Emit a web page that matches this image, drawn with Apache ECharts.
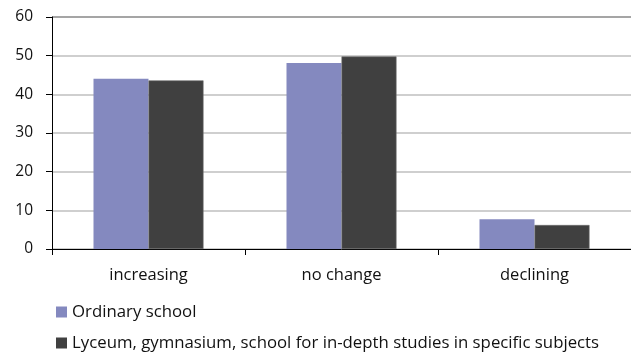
<!DOCTYPE html>
<html>
<head>
<meta charset="utf-8">
<script src="https://cdn.jsdelivr.net/npm/echarts@6/dist/echarts.min.js"></script>
<style>
  html, body { margin: 0; padding: 0; background: #fff; }
  #chart { width: 631px; height: 354px; }
</style>
</head>
<body>
<div id="chart"></div>
<script>
// Categories and per-group values (percent of respondents)
const categories = ['increasing', 'no change', 'declining'];
const ordinarySchool = [44.0, 48.1, 7.7];
const lyceumGymnasium = [43.6, 49.8, 6.2];
const seriesNames = [
  'Ordinary school',
  'Lyceum, gymnasium, school for in-depth studies in specific subjects'
];
const yTicks = { min: 0, max: 60, interval: 10 };

const FONT = '"Open Sans", Lato, sans-serif';
const TEXT = '#111111';

const legendText = { fontFamily: FONT, fontSize: 16.8, color: TEXT, lineHeight: 20 };

const chart = echarts.init(document.getElementById('chart'), null, { renderer: 'canvas' });

chart.setOption({
  animation: false,
  backgroundColor: '#ffffff',
  grid: { left: 52, right: 0, top: 17, bottom: 105, containLabel: false },
  legend: [
    {
      data: [seriesNames[0]],
      left: 56, top: 302, padding: 0,
      itemWidth: 11, itemHeight: 11, itemGap: 5,
      icon: 'rect',
      itemStyle: { borderWidth: 0 },
      textStyle: legendText
    },
    {
      data: [seriesNames[1]],
      left: 56, top: 333, padding: 0,
      itemWidth: 11, itemHeight: 11, itemGap: 5,
      icon: 'rect',
      itemStyle: { borderWidth: 0 },
      textStyle: legendText
    }
  ],
  xAxis: {
    type: 'category',
    data: categories,
    boundaryGap: true,
    axisLine: { show: true, lineStyle: { color: '#000000', width: 1 } },
    axisTick: { show: true, length: 6, inside: false, lineStyle: { color: '#000000' } },
    axisLabel: { fontFamily: FONT, fontSize: 16.5, color: TEXT, margin: 18 },
    splitLine: { show: false }
  },
  yAxis: {
    type: 'value',
    min: yTicks.min, max: yTicks.max, interval: yTicks.interval,
    axisLine: { show: true, lineStyle: { color: '#000000', width: 1 } },
    axisTick: { show: true, length: 6, lineStyle: { color: '#000000' } },
    axisLabel: { fontFamily: FONT, fontSize: 15.5, color: TEXT, margin: 19 },
    splitLine: {
      show: true,
      lineStyle: {
        width: 1.5,
        color: ['#bfbfbf', '#bfbfbf', '#bfbfbf', '#bfbfbf', '#bfbfbf', '#bfbfbf', '#878787']
      }
    }
  },
  series: [
    {
      name: seriesNames[0],
      type: 'bar',
      data: ordinarySchool,
      barGap: '0%',
      barCategoryGap: '43%',
      itemStyle: { color: '#8489bf' }
    },
    {
      name: seriesNames[1],
      type: 'bar',
      data: lyceumGymnasium,
      barGap: '0%',
      barCategoryGap: '43%',
      itemStyle: { color: '#404040', borderColor: '#6b6b6b', borderWidth: 0.6 }
    }
  ]
});
</script>
</body>
</html>
